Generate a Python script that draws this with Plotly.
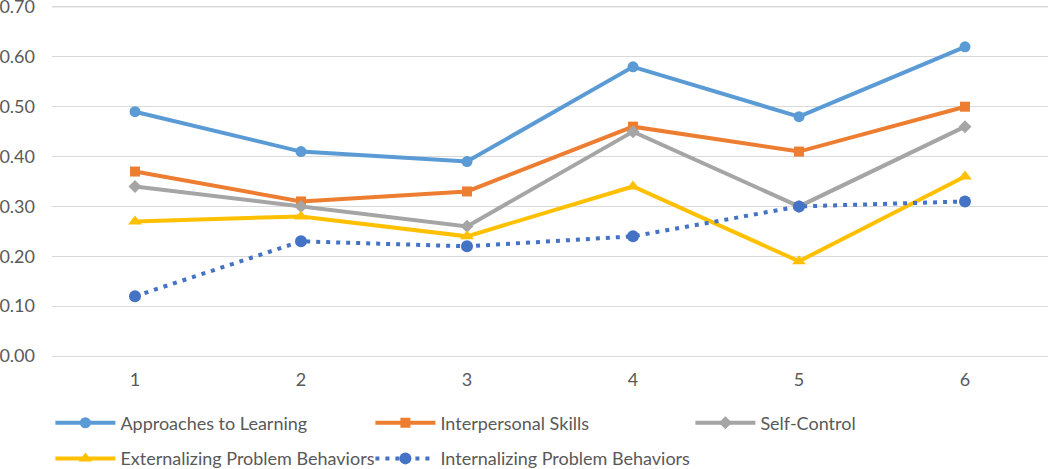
import plotly.graph_objects as go

categories = [1, 2, 3, 4, 5, 6]
approaches = [0.49, 0.41, 0.39, 0.58, 0.48, 0.62]
interpersonal = [0.37, 0.31, 0.33, 0.46, 0.41, 0.50]
self_control = [0.34, 0.30, 0.26, 0.45, 0.30, 0.46]
externalizing = [0.27, 0.28, 0.24, 0.34, 0.19, 0.36]
internalizing = [0.12, 0.23, 0.22, 0.24, 0.30, 0.31]
y_tick_step = 0.1
y_max_tick = 0.7

FONT = "Lato"
TXT = "#595959"
GRID = "#D9D9D9"

series = [
    ("Approaches to Learning", approaches, "#5B9BD5", "circle", 11, "solid", "legend"),
    ("Interpersonal Skills", interpersonal, "#ED7D31", "square", 10, "solid", "legend"),
    ("Self-Control", self_control, "#A5A5A5", "diamond", 10, "solid", "legend"),
    ("Externalizing Problem Behaviors", externalizing, "#FFC000", "triangle-up", 12, "solid", "legend2"),
    ("Internalizing Problem Behaviors", internalizing, "#4472C4", "circle", 12, "4px,6px", "legend2"),
]

fig = go.Figure()
for name, vals, color, sym, size, dash, leg in series:
    fig.add_trace(go.Scatter(
        x=categories, y=vals, name=name, mode="lines+markers",
        line=dict(color=color, width=4, dash=dash),
        marker=dict(symbol=sym, size=size, color=color, line=dict(width=0)),
        legend=leg,
    ))

# top gridline (plotly omits it this close to the plot edge)
fig.add_hline(y=y_max_tick, line=dict(color=GRID, width=1), layer="below")

leg_common = dict(orientation="h", font=dict(family=FONT, size=18, color=TXT),
                  bgcolor="rgba(0,0,0,0)", itemwidth=60, entrywidth=245,
                  entrywidthmode="pixels", xanchor="left", yanchor="middle",
                  xref="container", yref="container", traceorder="normal")

fig.update_layout(
    width=1050, height=469,
    margin=dict(l=52, r=2, t=0, b=111, autoexpand=False),
    plot_bgcolor="white", paper_bgcolor="white",
    font=dict(family=FONT, size=18, color=TXT),
    showlegend=True,
    legend=dict(**leg_common, x=0.048, y=0.098),
    legend2=dict(**leg_common, x=0.048, y=0.022),
    xaxis=dict(range=[0.5, 6.5], tickmode="array", tickvals=categories,
               ticktext=[str(c) for c in categories], showgrid=False,
               zeroline=False, showline=False, ticks="", automargin=False,
               ticklabelstandoff=9,
               tickfont=dict(family=FONT, size=18, color=TXT)),
    yaxis=dict(range=[-0.004, 0.714], tickmode="linear", tick0=0, dtick=y_tick_step,
               tickformat=".2f", showgrid=True, ticklabeloverflow="allow",
               gridcolor=GRID, gridwidth=1, zeroline=False,
               showline=False, ticks="", ticklabelstandoff=16, automargin=False,
               tickfont=dict(family=FONT, size=18, color=TXT)),
)

fig.write_html("out.html", config={"displayModeBar": False},
               post_script="document.body.style.margin='0';")
